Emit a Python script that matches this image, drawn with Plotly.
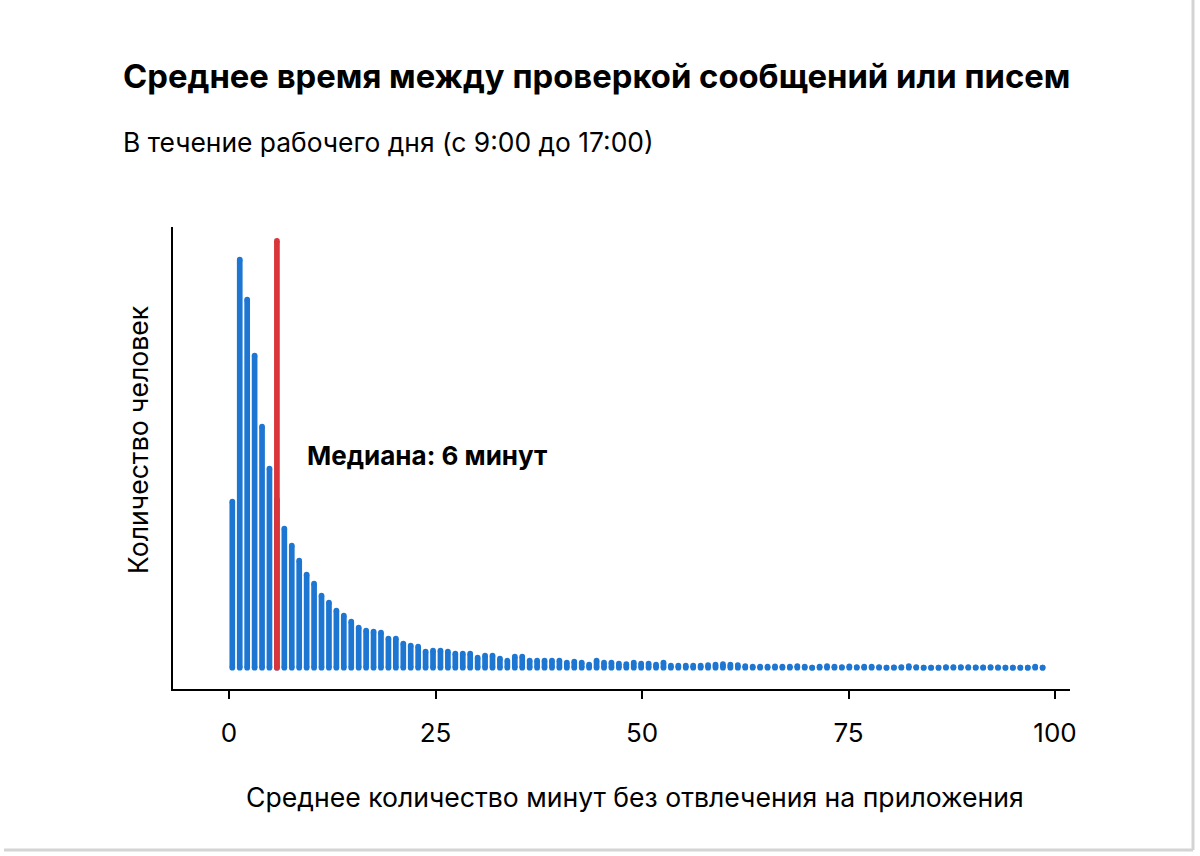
import plotly.graph_objects as go

# ---- data ----
# bin centres in minutes (110 evenly spaced bins)
BIN_START = 0.4
BIN_STEP = 0.9
minutes = [round(BIN_START + BIN_STEP * i, 2) for i in range(110)]

counts = [
    166, 408, 368, 312, 241, 199, 168, 139, 122, 107,
    93, 84, 72, 65, 57, 52, 46, 40, 37, 36,
    35, 29, 29, 24, 22, 21, 16, 17, 17, 16,
    14, 14, 14, 10, 12, 12, 9, 7, 11, 11,
    7, 7, 7, 7, 7, 5, 6, 5, 3, 7,
    5, 5, 4, 3.5, 5, 4, 4, 3, 5, 2,
    2, 2, 2, 2, 2.7, 3, 3.5, 3, 2.7, 1.7,
    1, 1, 1, 1.3, 1, 1, 1.7, 1, 0, 1,
    1.7, 1, 0.7, 1.3, 0.7, 1, 1, 0.7, 0, 0.3,
    0.7, 1.7, 0.7, 0, 0, 0, 0.7, 0.7, 0.7, 0.7,
    0.3, 0.3, 0.7, 0.3, 0, 0, 0, 0, 1, 0,
]
median_index = 6
median_label = "Медиана: 6 минут"
x_ticks = [0, 25, 50, 75, 100]

title = "Среднее время между проверкой сообщений или писем"
subtitle = "В течение рабочего дня (с 9:00 до 17:00)"
x_title = "Среднее количество минут без отвлечения на приложения"
y_title = "Количество человек"

BLUE = "#1D76D2"
RED = "#D9353A"
FONT = "Inter"
BAR_W = 5.7

W, H = 1200, 856
ML, MR, MT, MB = 173, 130, 227, 167
PW, PH = W - ML - MR, H - MT - MB

# ---- bars as rounded-end sticks ----
lx, ly, mx, my = [], [], [], []
for x, c in zip(minutes, counts):
    lx += [x, x, None]
    ly += [0, c, None]
    mx += [x, x]
    my += [0, c]

fig = go.Figure()
fig.add_trace(go.Scatter(x=lx, y=ly, mode="lines",
                         line=dict(color=BLUE, width=BAR_W),
                         hoverinfo="skip", showlegend=False))
fig.add_trace(go.Scatter(x=mx, y=my, mode="markers",
                         marker=dict(color=BLUE, size=BAR_W, line=dict(width=0)),
                         hoverinfo="skip", showlegend=False))

# median line
med_x = minutes[median_index]
med_top = max(counts) * 1.046
fig.add_trace(go.Scatter(x=[med_x, med_x], y=[0, med_top], mode="lines+markers",
                         line=dict(color=RED, width=BAR_W),
                         marker=dict(color=RED, size=BAR_W, line=dict(width=0)),
                         hoverinfo="skip", showlegend=False))

fig.add_annotation(x=(305 - 229) / 8.26, y=212, xref="x", yref="y",
                   text=f"<b>{median_label}</b>", showarrow=False,
                   xanchor="left", yanchor="middle",
                   font=dict(family=FONT, size=26, color="#000"))

def px_x(p):
    return (p - ML) / PW

def px_y(p):
    return (H - MB - p) / PH

# title & subtitle
fig.add_annotation(x=px_x(121), y=px_y(76), xref="paper", yref="paper",
                   text=f"<b>{title}</b>", showarrow=False,
                   xanchor="left", yanchor="middle",
                   font=dict(family=FONT, size=32.8, color="#000"))
fig.add_annotation(x=px_x(121), y=px_y(142), xref="paper", yref="paper",
                   text=subtitle, showarrow=False,
                   xanchor="left", yanchor="middle",
                   font=dict(family=FONT, size=26.4, color="#000"))

# axis titles
fig.add_annotation(x=px_x(635), y=px_y(797), xref="paper", yref="paper",
                   text=x_title, showarrow=False,
                   xanchor="center", yanchor="middle",
                   font=dict(family=FONT, size=26.6, color="#000"))
fig.add_annotation(x=px_x(138), y=px_y(440), xref="paper", yref="paper",
                   text=y_title, showarrow=False, textangle=-90,
                   xanchor="center", yanchor="middle",
                   font=dict(family=FONT, size=26.6, color="#000"))

# card shadow edges
fig.add_shape(type="line", xref="paper", yref="paper",
              x0=px_x(1193), x1=px_x(1193), y0=px_y(0), y1=px_y(850),
              line=dict(color="#d4d4d4", width=3), layer="below")
fig.add_shape(type="line", xref="paper", yref="paper",
              x0=px_x(4), x1=px_x(1193), y0=px_y(850), y1=px_y(850),
              line=dict(color="#d4d4d4", width=3), layer="below")

x0 = (ML - 229) / 8.26
x1 = (W - MR - 229) / 8.26
fig.update_layout(
    width=W, height=H,
    margin=dict(l=ML, r=MR, t=MT, b=MB, pad=0),
    paper_bgcolor="white", plot_bgcolor="white",
    font=dict(family=FONT, color="#000"),
    xaxis=dict(range=[x0, x1], showgrid=False, zeroline=False,
               showline=True, linecolor="#000", linewidth=2,
               ticks="outside", ticklen=8, tickwidth=2, tickcolor="#000",
               tickvals=x_ticks, ticktext=[str(t) for t in x_ticks],
               tickfont=dict(family=FONT, size=26, color="#000"),
               ticklabelstandoff=12),
    yaxis=dict(range=[-21.3, 440.7], showgrid=False, zeroline=False,
               showline=True, linecolor="#000", linewidth=2,
               showticklabels=False, ticks=""),
)

fig.write_html("out.html")
